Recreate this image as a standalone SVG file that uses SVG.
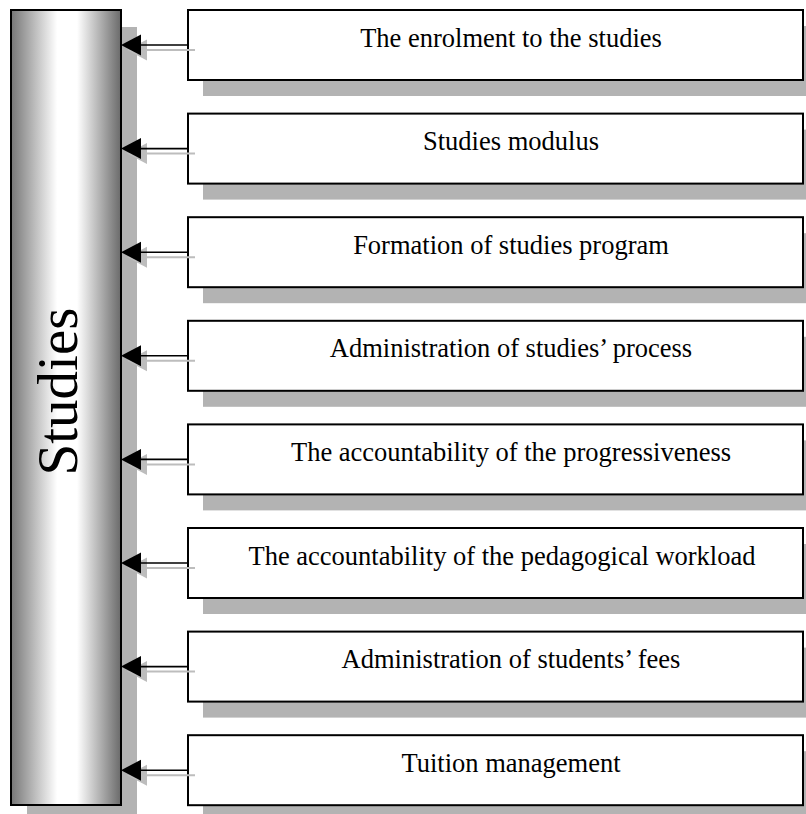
<svg xmlns="http://www.w3.org/2000/svg" width="806" height="814" viewBox="0 0 806 814">
<defs>
<linearGradient id="cyl" x1="0" y1="0" x2="1" y2="0">
<stop offset="0" stop-color="#767676"/>
<stop offset="0.42" stop-color="#ffffff"/>
<stop offset="0.6" stop-color="#ffffff"/>
<stop offset="1" stop-color="#6a6a6a"/>
</linearGradient>
<g id="arr">
<line x1="141" y1="5" x2="195" y2="5" stroke="#bdbdbd" stroke-width="2"/>
<polygon points="127,5 147,-5.5 147,15.5" fill="#bdbdbd"/>
<line x1="139" y1="0" x2="188" y2="0" stroke="#000" stroke-width="1.6"/>
<polygon points="121,0 141,-10.5 141,10.5" fill="#000"/>
</g>
</defs>
<style>
.shadow{fill:#b3b3b3}
.box{fill:#fff;stroke:#000;stroke-width:2}
.lbl{font-family:"Liberation Serif","Times New Roman",serif;font-size:26.5px;fill:#000;text-anchor:middle}
</style>
<rect width="806" height="814" fill="#fff"/>
<g id="studies">
<rect class="shadow" x="27" y="27" width="110" height="795"/>
<rect x="11" y="10" width="110" height="795" fill="url(#cyl)" stroke="#000" stroke-width="2"/>
<text transform="translate(77,391.5) rotate(-90)" font-family="'Liberation Serif','Times New Roman',serif" font-size="57" text-anchor="middle">Studies</text>
</g>
<g id="n1"><rect class="shadow" x="203" y="26" width="615" height="70"/><rect class="box" x="188" y="10" width="615" height="70"/><text class="lbl" x="511" y="46.5">The enrolment to the studies</text></g>
<g id="n2"><rect class="shadow" x="203" y="129.6" width="615" height="70"/><rect class="box" x="188" y="113.6" width="615" height="70"/><text class="lbl" x="511" y="150.1">Studies modulus</text></g>
<g id="n3"><rect class="shadow" x="203" y="233.2" width="615" height="70"/><rect class="box" x="188" y="217.2" width="615" height="70"/><text class="lbl" x="511" y="253.7">Formation of studies program</text></g>
<g id="n4"><rect class="shadow" x="203" y="336.8" width="615" height="70"/><rect class="box" x="188" y="320.8" width="615" height="70"/><text class="lbl" x="511" y="357.3">Administration of studies’ process</text></g>
<g id="n5"><rect class="shadow" x="203" y="440.4" width="615" height="70"/><rect class="box" x="188" y="424.4" width="615" height="70"/><text class="lbl" x="511" y="460.9">The accountability of the progressiveness</text></g>
<g id="n6"><rect class="shadow" x="203" y="544" width="615" height="70"/><rect class="box" x="188" y="528" width="615" height="70"/><text class="lbl" x="502" y="564.5">The accountability of the pedagogical workload</text></g>
<g id="n7"><rect class="shadow" x="203" y="647.6" width="615" height="70"/><rect class="box" x="188" y="631.6" width="615" height="70"/><text class="lbl" x="511" y="668.1">Administration of students’ fees</text></g>
<g id="n8"><rect class="shadow" x="203" y="751.2" width="615" height="70"/><rect class="box" x="188" y="735.2" width="615" height="70"/><text class="lbl" x="511" y="771.7">Tuition management</text></g>
<g id="connectors">
<use href="#arr" y="45"/>
<use href="#arr" y="148.6"/>
<use href="#arr" y="252.2"/>
<use href="#arr" y="355.8"/>
<use href="#arr" y="459.4"/>
<use href="#arr" y="563"/>
<use href="#arr" y="666.6"/>
<use href="#arr" y="770.2"/>
</g>
</svg>
